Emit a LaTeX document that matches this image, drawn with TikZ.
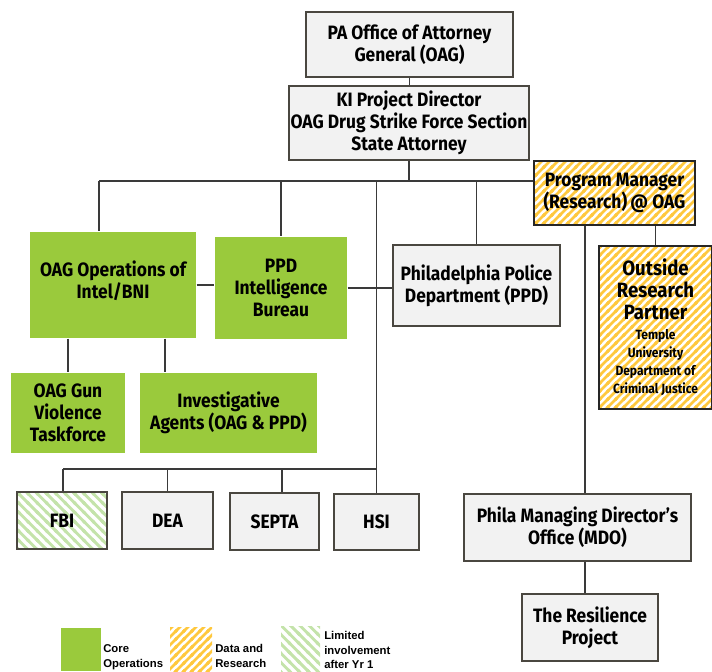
\documentclass[tikz,border=0pt]{standalone}
\usepackage{fontspec}
\setmainfont{Fira Sans}
\newfontfamily\orgfont[FakeStretch=0.9]{Fira Sans}
\newfontfamily\legfont{Liberation Sans}
\usetikzlibrary{patterns,positioning}

\definecolor{coregreen}{HTML}{9ACA3C}
\definecolor{datayellow}{HTML}{FFC83D}
\definecolor{limitgreen}{HTML}{C4E3AA}
\definecolor{boxgray}{HTML}{F2F2F2}
\definecolor{edgegray}{HTML}{4A4740}
\definecolor{linegray}{HTML}{3A3A3A}

\newcommand\partnerbig{\fontsize{15.5}{17}\selectfont}
\newcommand\partnersmall{\fontsize{10}{12.5}\selectfont}

\pgfdeclarepatternformonly{stripesNE}{\pgfqpoint{-1pt}{-1pt}}{\pgfqpoint{7pt}{7pt}}{\pgfqpoint{6pt}{6pt}}{%
  \pgfsetlinewidth{2pt}%
  \pgfpathmoveto{\pgfqpoint{-1pt}{-1pt}}\pgfpathlineto{\pgfqpoint{7pt}{7pt}}%
  \pgfpathmoveto{\pgfqpoint{-1pt}{5pt}}\pgfpathlineto{\pgfqpoint{1pt}{7pt}}%
  \pgfpathmoveto{\pgfqpoint{5pt}{-1pt}}\pgfpathlineto{\pgfqpoint{7pt}{1pt}}%
  \pgfusepath{stroke}}
\pgfdeclarepatternformonly{stripesNW}{\pgfqpoint{-1pt}{-1pt}}{\pgfqpoint{8pt}{8pt}}{\pgfqpoint{7pt}{7pt}}{%
  \pgfsetlinewidth{2.2pt}%
  \pgfpathmoveto{\pgfqpoint{-1pt}{8pt}}\pgfpathlineto{\pgfqpoint{8pt}{-1pt}}%
  \pgfpathmoveto{\pgfqpoint{-1pt}{1pt}}\pgfpathlineto{\pgfqpoint{1pt}{-1pt}}%
  \pgfpathmoveto{\pgfqpoint{6pt}{8pt}}\pgfpathlineto{\pgfqpoint{8pt}{6pt}}%
  \pgfusepath{stroke}}

\begin{document}
\begin{tikzpicture}[x=0.75pt, y=-0.75pt,
        box/.style={draw=edgegray, line width=1pt, fill=boxgray, inner sep=0pt, align=center,
            font=\orgfont\bfseries\fontsize{14.5}{16.5}\selectfont},
        core/.style={box, draw=none, fill=coregreen},
        research/.style={box, draw=black!85, fill=none, pattern=stripesNE, pattern color=datayellow},
        limited/.style={box, fill=none, pattern=stripesNW, pattern color=limitgreen},
        wh/.style 2 args={minimum width={0.75pt*#1}, minimum height={0.75pt*#2}},
        link/.style={draw=linegray, line width=0.9pt},
        legtext/.style={font=\legfont\bfseries\fontsize{8.5}{11}\selectfont, align=left, anchor=west, inner sep=0pt}]

        \clip (0,0) rectangle (712,671);

        \node[box, wh={207}{65}]       (oag)   at (409.5,44.5) {PA Office of Attorney\\General (OAG)};
        \node[box, wh={240}{74}]       (ki)    at (409,123)    {KI Project Director\\OAG Drug Strike Force Section\\State Attorney};
        \node[research, wh={161}{64}]  (pm)    at (614.5,193)  {Program Manager\\(Research)\,@ OAG};
        \node[core, wh={166}{106}]     (ops)   at (113,285)    {OAG Operations of\\Intel/BNI\\[-9pt]};
        \node[core, wh={132}{102}]     (intel) at (281,288)    {PPD\\Intelligence\\Bureau};
        \node[box, wh={167}{81}]       (ppd)   at (476.5,285.5) {Philadelphia Police\\Department (PPD)};
        \node[research, wh={113}{163}] (orp)   at (655.5,327.5) {\partnerbig Outside\\\partnerbig Research\\\partnerbig Partner\\[-1.5pt]
            \partnersmall Temple\\[-3pt]\partnersmall University\\[-3pt]\partnersmall Department of\\[-3pt]\partnersmall Criminal Justice};
        \node[core, wh={114}{80}]      (gun)   at (68,413)     {OAG Gun\\Violence\\Taskforce};
        \node[core, wh={177}{80}]      (inv)   at (228.5,413)  {Investigative\\Agents (OAG \& PPD)};
        \node[limited, wh={90}{57}]    (fbi)   at (62,520.5)   {FBI};
        \node[box, wh={91}{57}]        (dea)   at (167.5,520.5) {DEA};
        \node[box, wh={89}{57}]        (septa) at (274.5,521.5) {SEPTA};
        \node[box, wh={85}{56}]        (hsi)   at (376.5,522)  {HSI};
        \node[box, wh={227}{67}]       (mdo)   at (577.5,527.5) {Phila Managing Director’s\\Office (MDO)};
        \node[box, wh={136}{67}]       (res)   at (590,627.5)  {The Resilience\\Project};

        \coordinate (bar)      at (99,181);
        \coordinate (lowbar)   at (63,469);
        \coordinate (invtap)   at (165,373);
        \coordinate (septatap) at (282,469);
        \coordinate (mdotap)   at (585,0);

        \draw[link] (oag.south) -- (oag.south |- ki.north);
        \draw[link] (ki.south) -- (ki.south |- bar);
        \draw[link] (bar) -- (bar -| pm.west);
        \draw[link] (bar) -- (bar |- ops.north);
        \draw[link] (intel.north |- bar) -- (intel.north);
        \draw[link] (ppd.north |- bar) -- (ppd.north);
        \draw[link] (hsi.north |- bar) -- (hsi.north);
        \draw[link] (ops.east) -- (ops.east -| intel.west);
        \draw[link] (intel.east) -- (intel.east -| ppd.west);
        \draw[link] (gun.north |- ops.south) -- (gun.north);
        \draw[link] (invtap |- ops.south) -- (invtap |- inv.north);
        \draw[link] (lowbar) -- (lowbar -| hsi.north);
        \draw[link] (lowbar) -- (lowbar |- fbi.north);
        \draw[link] (dea.north |- lowbar) -- (dea.north);
        \draw[link] (septatap) -- (septatap |- septa.north);
        \draw[link] (mdotap |- pm.south) -- (mdotap |- mdo.north);
        \draw[link] (mdotap |- mdo.south) -- (mdotap |- res.north);
        \draw[link] (orp.north |- pm.south) -- (orp.north);

        \node[core, wh={40}{43}]                (keycore) at (81,649.5)  {};
        \node[legtext]                          (keycoretext) at (103,657) {Core\\Operations};
        \node[research, draw=none, wh={42}{44}] (keydata) at (191,649)   {};
        \node[legtext]                          (keydatatext) at (215,656) {Data and\\Research};
        \node[limited, draw=none, wh={39}{45}]  (keylim)  at (300.5,648.5) {};
        \node[legtext]                          (keylimtext) at (324,650) {Limited\\involvement\\after Yr 1};

    \end{tikzpicture}
\end{document}
